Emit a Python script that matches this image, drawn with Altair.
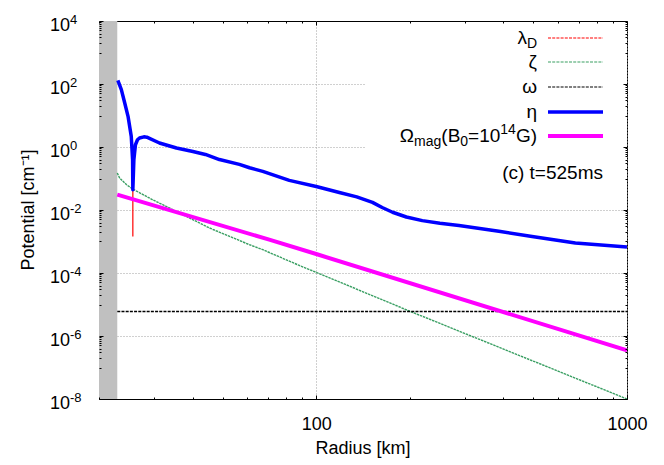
import altair as alt
import pandas as pd

FONT = "Liberation Sans"

# ---------------- data ----------------
band_r = [20.0, 22.9]
band_pot = [1e-8, 1e4]

eta_r = [23.0, 23.6, 24.2, 24.8, 25.4, 25.65, 25.7, 25.9, 26.2, 26.6, 27.0, 27.9, 28.5,
         31.3, 35.5, 40.1, 44.0, 48.8, 56.6, 61, 67.3, 81.9, 100, 118.7, 135, 151.7,
         163, 176, 195, 219.5, 250, 288, 387, 495, 603, 682, 1000]
eta_v = [130, 66, 25, 9.4, 2.17, 0.4, 0.044, 0.4, 1.18, 1.7, 1.93, 2.1, 2.05,
         1.34, 0.93, 0.72, 0.58, 0.40, 0.28, 0.22, 0.168, 0.087, 0.056, 0.036, 0.026,
         0.0175, 0.012, 0.0085, 0.006, 0.0046, 0.0038, 0.0032, 0.0021, 0.00145,
         0.00108, 9.0e-4, 6.7e-4]

zeta_r = [22.9, 23.3, 24.5, 25.7, 29.8, 35.5, 45.3, 61, 67.3, 88.2, 100, 201, 1000]
zeta_v = [0.15, 0.104, 0.064, 0.046, 0.021, 0.009, 0.0027, 7.9e-4, 5.5e-4, 1.74e-4,
          1.05e-4, 6.0e-6, 1.0e-8]

omega_r = [22.9, 1000]
omega_v = [6.0e-6, 6.0e-6]

lamD_r = [25.7, 25.7]
lamD_v = [0.04, 0.00145]

omag_r = [22.9, 70.6, 100, 1000]
omag_v = [0.0306, 1.14e-3, 4.0e-4, 3.5e-7]

x_major = [100, 1000]
x_minor = [20, 30, 40, 50, 60, 70, 80, 90, 200, 300, 400, 500, 600, 700, 800, 900]
y_major = [1e-8, 1e-6, 1e-4, 1e-2, 1, 1e2, 1e4]
y_exp = ["-8", "-6", "-4", "-2", "0", "2", "4"]
y_minor = [k * 10.0 ** (e - 1) for e in (4, 2, 0, -2, -4, -6) for k in range(1, 10)]
y_grid = [1e-6, 1e-4, 1e-2, 1, 1e2]

legend_colors = ["#ff0000", "#3a9f63", "#000000", "#0000ff", "#ff00ff"]
annotation = "(c) t=525ms"

# ---------------- layout / style ----------------
W, H = 528, 378
FM, FS = 18, 13       # axis text
LM, LS = 19, 14       # legend text
xs = alt.Scale(type="log", domain=[20, 1000], nice=False)
ys = alt.Scale(type="log", domain=[1e-8, 1e4], nice=False)

def df(xv, yv):
    return pd.DataFrame({"r": xv, "v": yv})

one = pd.DataFrame({"k": [0]})

def tick_axis(orient, values, size, labels=False, **kw):
    return alt.Axis(orient=orient, values=values, tickSize=size, offset=-size,
                    domain=False, grid=False, labels=labels, ticks=True,
                    tickColor="black", tickWidth=1, zindex=1, **kw)

def grid_axis(orient, values):
    return alt.Axis(orient=orient, values=values, grid=True, ticks=False, labels=False,
                    domain=False, gridColor="#a0a0a0", gridDash=[1, 2], gridWidth=1,
                    zindex=0)

layers = []

# grey band + grid
layers.append(
    alt.Chart(pd.DataFrame({"r0": [band_r[0]], "r1": [band_r[1]],
                            "v0": [band_pot[0]], "v1": [band_pot[1]]}))
    .mark_rect(color="#c0c0c0")
    .encode(x=alt.X("r0:Q", scale=xs, axis=grid_axis("bottom", x_major), title=None),
            x2="r1:Q",
            y=alt.Y("v0:Q", scale=ys, axis=grid_axis("left", y_grid), title=None),
            y2="v1:Q")
)

# legend background (opaque key box)
layers.append(
    alt.Chart(one).mark_rect(color="white")
    .encode(x=alt.value(267), x2=alt.value(527), y=alt.value(1), y2=alt.value(134))
)

def line_layer(xv, yv, color, width, xaxis, yaxis, dash=None):
    kw = dict(color=color, strokeWidth=width, strokeCap="butt", strokeJoin="round",
              clip=True)
    if dash:
        kw["strokeDash"] = dash
    return (alt.Chart(df(xv, yv)).mark_line(**kw)
            .encode(x=alt.X("r:Q", scale=xs, axis=xaxis, title=None),
                    y=alt.Y("v:Q", scale=ys, axis=yaxis, title=None),
                    order=alt.Order("r:Q")))

bottom_major = tick_axis("bottom", x_major, 4, labels=True, format="d", labelFont=FONT,
                         labelFontSize=FM, labelColor="black", labelPadding=16,
                         labelFlush=False, labelOverlap=False)

layers.append(
    alt.Chart(df(lamD_r, lamD_v)).mark_line(color=legend_colors[0], strokeWidth=1.2)
    .encode(x=alt.X("r:Q", scale=xs, axis=bottom_major, title=None),
            y=alt.Y("v:Q", scale=ys, axis=tick_axis("left", y_major, 4), title=None),
            order=alt.Order("v:Q"))
)
layers.append(line_layer(zeta_r, zeta_v, legend_colors[1], 1.4,
                         tick_axis("bottom", x_minor, 2), tick_axis("left", y_minor, 2),
                         dash=[2.5, 0.8]))
layers.append(line_layer(omega_r, omega_v, legend_colors[2], 1.3,
                         tick_axis("top", x_major, 4), tick_axis("right", y_major, 4),
                         dash=[3, 1.2]))
layers.append(line_layer(eta_r, eta_v, legend_colors[3], 3.5,
                         tick_axis("top", x_minor, 2), tick_axis("right", y_minor, 2)))
layers.append(line_layer(omag_r, omag_v, legend_colors[4], 4, None, None))

# y tick labels "10" + exponent
ylab = pd.DataFrame({"v": y_major, "e": y_exp})
layers.append(
    alt.Chart(ylab).mark_text(align="right", baseline="alphabetic", dy=10, font=FONT,
                              fontSize=FM, color="black", text="10")
    .encode(x=alt.value(-29), y=alt.Y("v:Q", scale=ys, axis=None))
)
layers.append(
    alt.Chart(ylab).mark_text(align="left", baseline="alphabetic", dy=3, font=FONT,
                              fontSize=FS, color="black")
    .encode(x=alt.value(-29), y=alt.Y("v:Q", scale=ys, axis=None), text="e:N")
)

def txt(s, x, y, fs=FM, align="right", angle=None, baseline="alphabetic"):
    kw = dict(text=s, font=FONT, fontSize=fs, color="black", align=align, baseline=baseline)
    if angle is not None:
        kw["angle"] = angle
    return alt.Chart(one).mark_text(**kw).encode(x=alt.value(x), y=alt.value(y))

# axis titles
layers.append(txt("Radius [km]", W / 2, 433, align="center"))
layers.append(txt("Potential [cm\u207b\u00b9]", -70, H / 2, align="center", angle=270,
                  baseline="middle"))

# legend
AW = {"G": 0.778, ")": 0.333, "(": 0.333, "1": 0.556, "4": 0.556, "0": 0.556,
      "=": 0.584, "B": 0.667, "m": 0.833, "a": 0.556, "g": 0.556, "D": 0.722}

def wid(s, fs):
    return sum(AW[c] for c in s) * fs

rows = [17, 41, 66, 91, 115]
TX = 438
L0, L1 = 449, 504
pieces = [
    [("D", "sub"), ("\u03bb", "main")],
    [("\u03b6", "main")],
    [("\u03c9", "main")],
    [("\u03b7", "main")],
    [("G)", "main"), ("14", "sup"), ("=10", "main"), ("0", "sub"), ("(B", "main"),
     ("mag", "sub"), ("\u03a9", "main")],
]
styles = [dict(strokeWidth=1.2, strokeDash=[3, 1.2]),
          dict(strokeWidth=1.2, strokeDash=[3, 1.2]),
          dict(strokeWidth=1.2, strokeDash=[3, 1.2]),
          dict(strokeWidth=3.5),
          dict(strokeWidth=4)]
for row, plist, col, st in zip(rows, pieces, legend_colors, styles):
    x = TX
    for s, kind in plist:
        if kind == "main":
            layers.append(txt(s, x, row + 5.5, LM))
            if all(c in AW for c in s):
                x -= wid(s, LM)
        elif kind == "sub":
            layers.append(txt(s, x, row + 10, LS))
            x -= wid(s, LS)
        else:
            layers.append(txt(s, x, row - 2.5, LS))
            x -= wid(s, LS)
    layers.append(alt.Chart(one).mark_rule(color=col, strokeCap="butt", **st)
                  .encode(x=alt.value(L0), x2=alt.value(L1), y=alt.value(row)))

layers.append(txt(annotation, 504, 158, LM))

chart = (alt.layer(*layers)
         .resolve_axis(x="independent", y="independent")
         .properties(width=W, height=H,
                     autosize=alt.AutoSizeParams(type="none"),
                     padding={"left": 91, "top": 13, "right": 29, "bottom": 64})
         .configure(font=FONT, background="white")
         .configure_view(stroke="black", strokeWidth=1))

chart.save("out.html", embed_options={"renderer": "svg", "actions": False})
